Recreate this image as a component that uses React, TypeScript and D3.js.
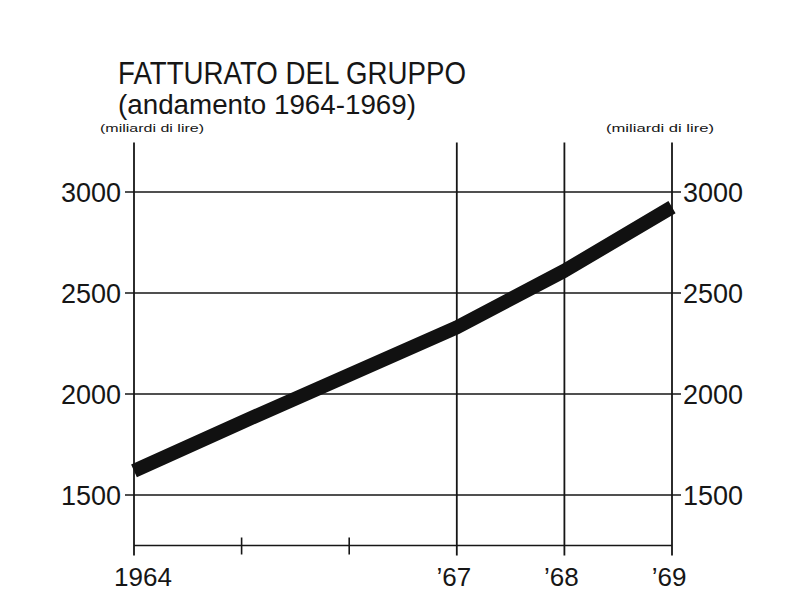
import * as d3 from "d3"

// turnover of the group, billions of lire
const years = [1964, 1965, 1966, 1967, 1968, 1969]
const turnover = [1620, 1860, 2095, 2330, 2610, 2925]
const yTicks = [1500, 2000, 2500, 3000]
const majorYears = [1967, 1968, 1969]
const minorYears = [1965, 1966]
const xLabels = [
  { year: 1964, label: "1964" },
  { year: 1967, label: "’67" },
  { year: 1968, label: "’68" },
  { year: 1969, label: "’69" },
]

const W = 804
const H = 614
const font = "'Liberation Sans', Arial, Helvetica, sans-serif"
const ink = "#161616"

export default function App() {
  const x = d3.scaleLinear().domain([1964, 1969]).range([134, 672])
  const y = d3.scaleLinear().domain([1500, 3000]).range([495, 192])

  const top = y(3245)
  const bottom = y(1250)

  const line = d3
    .line<number>()
    .x((_, i) => x(years[i]))
    .y((d) => y(d))

  return (
    <svg
      width={W}
      height={H}
      style={{ position: "absolute", left: 0, top: 0, background: "#fff" }}
    >
      {/* title */}
      <text x={118} y={84} fontFamily={font} fontSize={31} fill={ink}
        textLength={348} lengthAdjust="spacingAndGlyphs">
        FATTURATO DEL GRUPPO
      </text>
      <text x={118} y={114} fontFamily={font} fontSize={27} fill={ink}
        textLength={298} lengthAdjust="spacingAndGlyphs">
        (andamento 1964-1969)
      </text>

      {/* unit labels */}
      <text x={100} y={132} fontFamily={font} fontSize={11.5} fill={ink}
        textLength={104} lengthAdjust="spacingAndGlyphs">
        (miliardi di lire)
      </text>
      <text x={606} y={132} fontFamily={font} fontSize={11.5} fill={ink}
        textLength={108} lengthAdjust="spacingAndGlyphs">
        (miliardi di lire)
      </text>

      {/* horizontal grid */}
      {yTicks.map((t) => (
        <g key={t}>
          <line x1={x(1964) - 9} x2={x(1969) + 9} y1={y(t)} y2={y(t)}
            stroke={ink} strokeWidth={1.6} />
          <text x={121} y={y(t)} dy="0.36em" textAnchor="end"
            fontFamily={font} fontSize={27} fill={ink}>
            {t}
          </text>
          <text x={683} y={y(t)} dy="0.36em" textAnchor="start"
            fontFamily={font} fontSize={27} fill={ink}>
            {t}
          </text>
        </g>
      ))}

      {/* bottom axis */}
      <line x1={x(1964)} x2={x(1969)} y1={bottom} y2={bottom}
        stroke={ink} strokeWidth={1.6} />
      {minorYears.map((yr) => (
        <line key={yr} x1={x(yr)} x2={x(yr)} y1={bottom - 8} y2={bottom + 9}
          stroke={ink} strokeWidth={1.6} />
      ))}

      {/* left axis */}
      <line x1={x(1964)} x2={x(1964)} y1={top} y2={bottom + 10}
        stroke={ink} strokeWidth={1.8} />
      {/* year verticals incl. right axis */}
      {majorYears.map((yr) => (
        <line key={yr} x1={x(yr)} x2={x(yr)} y1={top} y2={bottom + 10}
          stroke={ink} strokeWidth={1.8} />
      ))}

      {/* data band */}
      <path d={line(turnover) || ""} fill="none" stroke="#111"
        strokeWidth={14} strokeLinejoin="round" />

      {/* year labels */}
      {xLabels.map((d) => (
        <text key={d.label}
          x={d.year === 1964 ? x(d.year) + 9 : x(d.year) - 3}
          y={586} textAnchor="middle" fontFamily={font} fontSize={26} fill={ink}>
          {d.label}
        </text>
      ))}
    </svg>
  )
}
